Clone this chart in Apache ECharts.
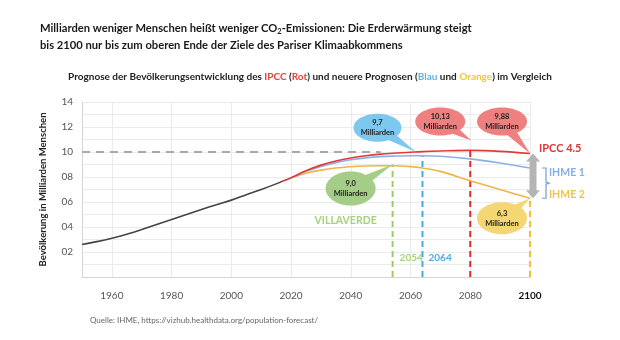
<!DOCTYPE html>
<html>
<head>
<meta charset="utf-8">
<script src="https://cdn.jsdelivr.net/npm/echarts@6/dist/echarts.min.js"></script>
<style>
  html, body { margin: 0; padding: 0; background: #ffffff; }
  #chart { width: 620px; height: 340px; }
</style>
</head>
<body>
<div id="chart"></div>
<script>
// Weltbevölkerung 1950-2017 (Mrd.)
const histYears = [1950, 1955, 1960, 1965, 1970, 1975, 1980, 1985, 1990, 1995, 2000, 2005, 2010, 2015, 2017];
const histPop   = [2.6, 2.83, 3.1, 3.42, 3.8, 4.2, 4.6, 5.0, 5.4, 5.78, 6.15, 6.58, 7.0, 7.45, 7.65];

// Prognosen 2017-2100 (Mrd.)
const projYears = [2017, 2020, 2025, 2030, 2035, 2040, 2045, 2050, 2054, 2060, 2064, 2070, 2080, 2090, 2100];
const ipcc45    = [7.65, 7.95, 8.5, 8.95, 9.28, 9.52, 9.7, 9.83, 9.9, 9.98, 10.03, 10.08, 10.13, 10.05, 9.88];
const ihme1     = [7.65, 7.92, 8.45, 8.85, 9.15, 9.38, 9.53, 9.63, 9.67, 9.7, 9.7, 9.66, 9.45, 9.12, 8.72];
const ihme2     = [7.65, 7.92, 8.3, 8.55, 8.72, 8.82, 8.88, 8.9, 8.9, 8.83, 8.72, 8.45, 7.7, 7.0, 6.3];

// Markierte Höchst-/Endwerte: Villaverde, IHME 1, IPCC, IHME 2
const markYears  = [2054, 2064, 2080, 2100];
const markValues = [9.0, 9.7, 10.13, 6.3];

// 10-Milliarden-Referenzlinie
const refLevel = 10;
const refYears = [1950, 2050];

// Achsenbeschriftungen
const xLabelYears = [1960, 1980, 2000, 2020, 2040, 2060, 2080, 2100];
const yTickLabels = ['', '02', '04', '06', '08', '10', '12', '14'];

const FONT = 'Lato, "Open Sans", sans-serif';
const C_RED = '#e23a3a', C_BLUE = '#8fb1de', C_ORANGE = '#f1b545', C_BLACK = '#454545';
const C_GREEN = '#9ccb62', C_SKY = '#42aee4', C_YEL = '#f2c232';

const chart = echarts.init(document.getElementById('chart'), null, { renderer: 'canvas' });

const zip = (xs, ys) => xs.map((x, i) => [x, ys[i]]);
const curve = (name, xs, ys, color) => ({
  name, type: 'line', data: zip(xs, ys), smooth: 0.35, symbol: 'none', z: 5,
  color, lineStyle: { color, width: 1.6 }, silent: true
});
const vDash = (year, value, color) => ({
  type: 'line', data: [[year, 0], [year, value]], symbol: 'none', z: 4, silent: true,
  color, itemStyle: { color }, lineStyle: { color, width: 2, type: [6, 4] }
});

chart.setOption({
  animation: false,
  title: [
    {
      left: 35, top: 15,
      text: '{b|Milliarden weniger Menschen heißt weniger CO}{s|2}{b|-Emissionen: Die Erderwärmung steigt}\n{b|bis 2100 nur bis zum oberen Ende der Ziele des Pariser Klimaabkommens}',
      textStyle: {
        rich: {
          b: { fontFamily: FONT, fontWeight: 'bold', fontSize: 11.2, color: '#1a1a1a', lineHeight: 17 },
          s: { fontFamily: FONT, fontWeight: 'bold', fontSize: 7.5, color: '#1a1a1a', lineHeight: 17, padding: [6, 0, 0, 0] }
        }
      }
    },
    {
      left: 'center', top: 67,
      text: '{k|Prognose der Bevölkerungsentwicklung des }{r|IPCC}{k| (}{r|Rot}{k|) und neuere Prognosen (}{bl|Blau}{k| und }{o|Orange}{k|) im Vergleich}',
      textStyle: {
        rich: {
          k: { fontFamily: FONT, fontWeight: 'bold', fontSize: 10, color: '#222' },
          r: { fontFamily: FONT, fontWeight: 'bold', fontSize: 10, color: '#e8413c' },
          bl: { fontFamily: FONT, fontWeight: 'bold', fontSize: 10, color: '#5db6e8' },
          o: { fontFamily: FONT, fontWeight: 'bold', fontSize: 10, color: '#f5c542' }
        }
      }
    },
    {
      left: 85, top: 311,
      text: 'Quelle: IHME, https://vizhub.healthdata.org/population-forecast/',
      textStyle: { fontFamily: FONT, fontSize: 8, fontWeight: 'normal', color: '#666' }
    }
  ],
  grid: { left: 82, right: 90, top: 102, bottom: 63, containLabel: false },
  xAxis: {
    type: 'value', min: 1950, max: 2100, interval: 10,
    axisLine: { show: true, lineStyle: { color: '#d6d6d6' } },
    axisTick: { show: false },
    splitLine: { show: false },
    axisLabel: {
      margin: 14,
      fontFamily: FONT, fontSize: 10, color: '#555',
      formatter: v => {
        if (!xLabelYears.includes(v)) return '';
        return v === 2100 ? '{e|' + v + '}' : String(v);
      },
      rich: { e: { fontFamily: FONT, fontSize: 10, fontWeight: 'bold', color: '#111' } }
    }
  },
  yAxis: {
    type: 'value', min: 0, max: 14, interval: 1,
    name: 'Bevölkerung in Milliarden Menschen',
    nameLocation: 'middle', nameGap: 34,
    nameTextStyle: { fontFamily: FONT, fontSize: 9.5, fontWeight: 'bold', color: '#222' },
    axisLine: { show: true, lineStyle: { color: '#d6d6d6' } },
    axisTick: { show: false },
    splitLine: { show: true, lineStyle: { color: '#ebebeb', width: 1 } },
    axisLabel: {
      margin: 9, fontFamily: FONT, fontSize: 10, color: '#555',
      formatter: v => (v % 2 === 0 ? yTickLabels[v / 2] : '')
    }
  },
  series: [
    {
      type: 'line', data: [], silent: true, z: 1,
      markLine: {
        z: 1, silent: true, symbol: 'none', label: { show: false },
        lineStyle: { color: '#ebebeb', width: 1, type: 'solid' },
        data: xLabelYears.map(y => ({ xAxis: y }))
      }
    },
    {
      type: 'line', data: refYears.map(y => [y, refLevel]), symbol: 'none', z: 3, silent: true,
      color: '#a9a9a9', lineStyle: { color: '#a9a9a9', width: 2, type: [8, 6] }
    },
    vDash(markYears[0], markValues[0], C_GREEN),
    vDash(markYears[1], markValues[1], C_SKY),
    vDash(markYears[2], markValues[2], '#e02b2b'),
    vDash(markYears[3], markValues[3], C_YEL),
    curve('Historisch', histYears, histPop, C_BLACK),
    curve('IHME 2', projYears, ihme2, C_ORANGE),
    curve('IHME 1', projYears, ihme1, C_BLUE),
    curve('IPCC 4.5', projYears, ipcc45, C_RED)
  ]
});

// Anmerkungen (Sprechblasen, Pfeil, Klammer, Beschriftungen) an Datenpunkten verankern
const px = (x, y) => chart.convertToPixel({ gridIndex: 0 }, [x, y]);
const fmt = v => String(v).replace('.', ',').replace(/^(\d+)$/, '$1,0');

function bubble(anchor, dx, dy, rx, ry, tdx, tdy, fill, value) {
  const cx = anchor[0] + dx, cy = anchor[1] + dy;
  const tx = anchor[0] + tdx, ty = anchor[1] + tdy;
  let ux = tx - cx, uy = ty - cy;
  const len = Math.hypot(ux, uy); ux /= len; uy /= len;
  const bx = cx + ux * Math.min(rx, ry) * 0.5, by = cy + uy * Math.min(rx, ry) * 0.5;
  const w = 6;
  return [
    { type: 'polygon', z: 20, silent: true,
      shape: { points: [[bx - uy * w, by + ux * w], [bx + uy * w, by - ux * w], [tx, ty]] },
      style: { fill } },
    { type: 'ellipse', z: 21, silent: true, shape: { cx, cy, rx, ry }, style: { fill } },
    { type: 'text', z: 22, silent: true, x: cx, y: cy,
      style: { text: fmt(value) + '\nMilliarden', textAlign: 'center', textVerticalAlign: 'middle',
               font: 'bold 7.5px ' + FONT, fill: '#222', lineHeight: 10 } }
  ];
}

function label(x, y, text, color, size, align) {
  return { type: 'text', z: 22, silent: true, x, y,
    style: { text, textAlign: align || 'left', textVerticalAlign: 'middle',
             font: 'bold ' + size + 'px ' + FONT, fill: color } };
}

const last = a => a[a.length - 1];
const pVill = px(markYears[0], markValues[0]);
const pIhme1 = px(markYears[1], markValues[1]);
const pIpccPeak = px(markYears[2], markValues[2]);
const pIpccEnd = px(last(projYears), last(ipcc45));
const pIhme2End = px(markYears[3], markValues[3]);
const pIhme1End = px(last(projYears), last(ihme1));
const pLab = px(markYears[0], 1.5);
const pLab2 = px(markYears[1], 1.5);

const g = [];
g.push(...bubble(pVill, -42, 24, 25, 17, 0, 0, '#a4ce88', markValues[0]));
g.push(...bubble(pIhme1, -45, -28, 24, 14, -7, -4, '#7dc8ee', markValues[1]));
g.push(...bubble(pIpccPeak, -30, -29, 25, 14, 1, -10, '#ee8080', markValues[2]));
g.push(...bubble(pIpccEnd, -28, -32, 25, 14, 0, 0, '#ee8080', last(ipcc45)));
g.push(...bubble(pIhme2End, -28, 20, 25, 16, 0, 0, '#f4d672', markValues[3]));

// Doppelpfeil zwischen IPCC- und IHME-2-Endwert
(function () {
  const x = pIpccEnd[0] + 3, y1 = pIpccEnd[1], y2 = pIhme2End[1];
  const sw = 3.5, hw = 7, hl = 8;
  g.push({ type: 'polygon', z: 15, silent: true, style: { fill: '#b4b4b4' },
    shape: { points: [
      [x, y1], [x + hw, y1 + hl], [x + sw, y1 + hl], [x + sw, y2 - hl], [x + hw, y2 - hl],
      [x, y2], [x - hw, y2 - hl], [x - sw, y2 - hl], [x - sw, y1 + hl], [x - hw, y1 + hl]
    ] } });
})();

// Klammer für IHME 1 / IHME 2
(function () {
  const x0 = pIhme1End[0] + 12, x1 = x0 + 4, y1 = pIhme1End[1], y2 = pIhme2End[1], ym = (y1 + y2) / 2;
  g.push({ type: 'polyline', z: 15, silent: true,
    shape: { points: [[x0, y1], [x1, y1], [x1, ym - 1], [x1 + 3, ym], [x1, ym + 1], [x1, y2], [x0, y2]] },
    style: { stroke: '#6f9fd8', lineWidth: 1.2, fill: null } });
})();

g.push(label(pIpccEnd[0] + 9, pIpccEnd[1] - 5, 'IPCC 4.5', '#e03535', 11));
g.push(label(pIhme1End[0] + 19, pIhme1End[1] + 5, 'IHME 1', '#86aee2', 10.5));
g.push(label(pIhme2End[0] + 19, pIhme2End[1] - 4, 'IHME 2', '#f2c347', 10.5));
g.push(label(pVill[0] - 47, pVill[1] + 56, 'VILLAVERDE', '#a6d17f', 10.5, 'center'));
g.push(label(pLab[0] + 7, pLab[1], String(markYears[0]), '#a6d17f', 10));
g.push(label(pLab2[0] + 6, pLab2[1], String(markYears[1]), '#4aaee6', 10));

chart.setOption({ graphic: { elements: g } });
</script>
</body>
</html>
